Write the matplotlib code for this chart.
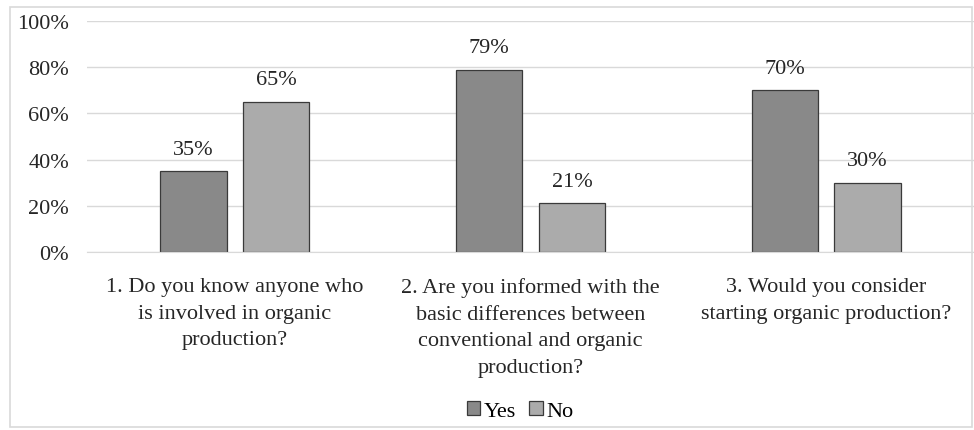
import numpy as np
import matplotlib.pyplot as plt
from matplotlib.patches import Rectangle

plt.rcParams['font.family'] = ['Liberation Serif', 'DejaVu Serif']

questions = [
    "1. Do you know anyone who\nis involved in organic\nproduction?",
    "2. Are you informed with the\nbasic differences between\nconventional and organic\nproduction?",
    "3. Would you consider\nstarting organic production?",
]
yes = [35, 79, 70]
no = [65, 21, 30]

FS = 16
TXT = '#262626'

W, H = 974, 431
fig = plt.figure(figsize=(W / 100, H / 100), dpi=100)
ax = fig.add_axes([87 / W, 1 - 253 / H, (974 - 87) / W, (253 - 22) / H])

# outer chart frame
fig.patches.append(Rectangle((10 / W, 1 - 428 / H), (972 - 10) / W, (428 - 8) / H,
                             transform=fig.transFigure, fill=False,
                             edgecolor='#d9d9d9', linewidth=1.2))

x = np.arange(len(questions))
bw = 0.225
off = 0.14
b1 = ax.bar(x - off, yes, bw, color='#898989', edgecolor='#3a3a3a', linewidth=0.9, label='Yes')
b2 = ax.bar(x + off, no, bw, color='#ababab', edgecolor='#3a3a3a', linewidth=0.9, label='No')

for bars in (b1, b2):
    ax.bar_label(bars, labels=[f"{v:.0f}%" for v in bars.datavalues], padding=9,
                 fontsize=FS, color=TXT)

ax.set_xlim(-0.5, 2.5)
ax.set_ylim(0, 100)
ax.set_yticks(range(0, 101, 20))
ax.set_yticklabels([f"{v}%" for v in range(0, 101, 20)], fontsize=FS, color=TXT)
ax.yaxis.grid(True, color='#d9d9d9', linewidth=1)
ax.set_axisbelow(True)
for s in ax.spines.values():
    s.set_visible(False)
ax.spines['bottom'].set_visible(True)
ax.spines['bottom'].set_color('#d9d9d9')
ax.tick_params(axis='both', length=0)
ax.tick_params(axis='y', pad=13)

ax.set_xticks(x)
ax.set_xticklabels(questions, fontsize=FS, color=TXT, linespacing=1.55, va='top')
ax.tick_params(axis='x', pad=18)

fig.legend(handles=[b1, b2], loc='center', bbox_to_anchor=(520 / W, 1 - 412 / H), ncol=2,
           frameon=False, fontsize=FS, handlelength=0.6, handleheight=0.6,
           handletextpad=0.15, columnspacing=0.6)

fig.savefig('out.png', dpi=100)
